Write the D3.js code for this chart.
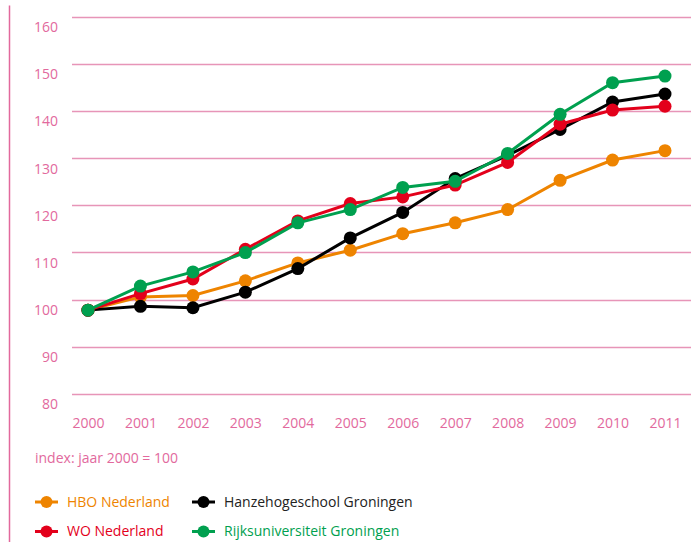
<!DOCTYPE html>
<html>
<head>
<meta charset="utf-8">
<title>Index studenten 2000-2011</title>
<style>
body { margin: 0; background: #fff; }
svg text { font-family: "Open Sans", sans-serif; font-weight: 500; }
</style>
</head>
<body>
<div id="chart"></div>
<script src="https://cdn.jsdelivr.net/npm/d3@7/dist/d3.min.js"></script>
<script>
// data (index: 2000 = 100)
var years = [2000, 2001, 2002, 2003, 2004, 2005, 2006, 2007, 2008, 2009, 2010, 2011];
var yTicks = [80, 90, 100, 110, 120, 130, 140, 150, 160];

var hboNederland   = [100, 102.8, 103.1, 106.2, 110.0, 112.7, 116.2, 118.5, 121.3, 127.5, 131.8, 133.8];
var hanzehogeschool = [100, 100.8, 100.5, 103.8, 108.8, 115.3, 120.7, 127.9, 132.8, 138.3, 144.1, 145.8];
var woNederland    = [100, 103.5, 106.6, 112.9, 118.9, 122.6, 124.0, 126.5, 131.3, 139.4, 142.4, 143.2];
var rijksuniversiteit = [100, 105.1, 108.1, 112.2, 118.5, 121.3, 126.0, 127.3, 133.2, 141.5, 148.2, 149.6];

var seriesNames = ["HBO Nederland", "Hanzehogeschool Groningen", "WO Nederland", "Rijksuniversiteit Groningen"];

var series = [
  {name: seriesNames[0], values: hboNederland, color: "#ee8400", text: "#ee8400"},
  {name: seriesNames[1], values: hanzehogeschool, color: "#000000", text: "#222222"},
  {name: seriesNames[2], values: woNederland, color: "#e3001b", text: "#e3001b"},
  {name: seriesNames[3], values: rijksuniversiteit, color: "#00a04f", text: "#00a04f"}
];

var pink = "#e2699d";
var gridPink = "#e795b8";

var W = 691, H = 542;

var svg = d3.select("#chart").append("svg")
    .attr("width", W)
    .attr("height", H);

var x = d3.scalePoint().domain(years).range([88, 665]);
var y = d3.scaleLinear().domain([80, 160]).range([404.5, 27]);

// left vertical rule
svg.append("line")
    .attr("x1", 9.5).attr("x2", 9.5)
    .attr("y1", 5.5).attr("y2", H)
    .attr("stroke", pink)
    .attr("stroke-width", 1.5);

// gridlines (they sit a little above their labels in the original)
svg.append("g").selectAll("line")
    .data(yTicks)
    .enter().append("line")
    .attr("x1", 72).attr("x2", W)
    .attr("y1", function(d) { return Math.round(y(d) - 10.5) + 0.5; })
    .attr("y2", function(d) { return Math.round(y(d) - 10.5) + 0.5; })
    .attr("stroke", gridPink)
    .attr("stroke-width", 1.3);

// y labels
var yAxis = svg.append("g")
    .attr("transform", "translate(58,0)")
    .call(d3.axisLeft(y).tickValues(yTicks).tickSize(0).tickPadding(0));
yAxis.select(".domain").remove();
yAxis.selectAll("text")
    .attr("fill", pink)
    .style("font-size", "14px")
    .style("font-family", "'Open Sans', sans-serif");

// x labels
var xAxis = svg.append("g")
    .attr("transform", "translate(0,418)")
    .call(d3.axisBottom(x).tickSize(0).tickPadding(0));
xAxis.select(".domain").remove();
xAxis.selectAll("text")
    .attr("fill", pink)
    .style("font-size", "14px")
    .style("font-family", "'Open Sans', sans-serif");

var line = d3.line()
    .x(function(d, i) { return x(years[i]); })
    .y(function(d) { return y(d); });

series.forEach(function(s) {
  var g = svg.append("g");
  g.append("path")
    .datum(s.values)
    .attr("d", line)
    .attr("fill", "none")
    .attr("stroke", s.color)
    .attr("stroke-width", 3);
  g.selectAll("circle")
    .data(s.values)
    .enter().append("circle")
    .attr("cx", function(d, i) { return x(years[i]); })
    .attr("cy", function(d) { return y(d); })
    .attr("r", 6.5)
    .attr("fill", s.color);
});

// note
svg.append("text")
    .attr("x", 35)
    .attr("y", 463)
    .attr("fill", pink)
    .style("font-size", "14px")
    .text("index: jaar 2000 = 100");

// legend
var legendPos = [[35, 502], [192, 502], [35, 531.5], [192, 531.5]];
var legend = svg.append("g").selectAll("g")
    .data(series)
    .enter().append("g")
    .attr("transform", function(d, i) { return "translate(" + legendPos[i][0] + "," + legendPos[i][1] + ")"; });

legend.append("line")
    .attr("x1", 0).attr("x2", 23)
    .attr("stroke", function(d) { return d.color; })
    .attr("stroke-width", 3);
legend.append("circle")
    .attr("cx", 11.5)
    .attr("r", 6)
    .attr("fill", function(d) { return d.color; });
legend.append("text")
    .attr("x", 32)
    .attr("dy", "0.35em")
    .attr("fill", function(d) { return d.text; })
    .style("font-size", "14px")
    .text(function(d) { return d.name; });
</script>
</body>
</html>
